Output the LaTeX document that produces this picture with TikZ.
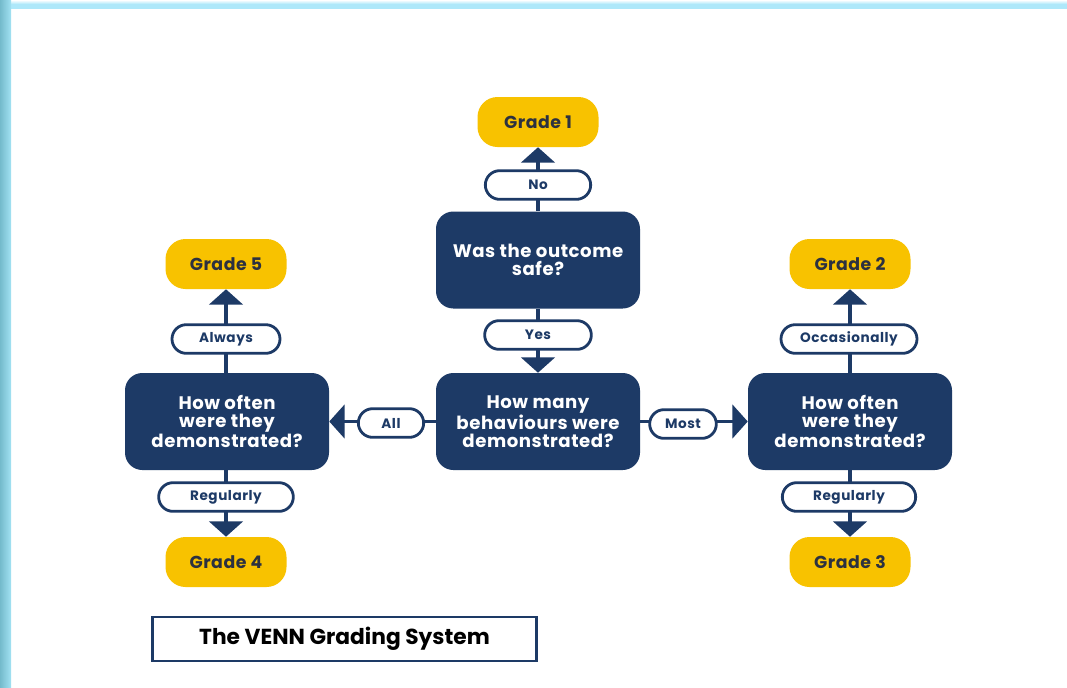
\documentclass[tikz,border=0pt]{standalone}
\usepackage{fontspec}
\setmainfont{Poppins}
\newfontfamily\qfont{Poppins}[LetterSpace=3]
\newfontfamily\gfont{Poppins}[LetterSpace=3]
\newfontfamily\pfont{Poppins}[LetterSpace=4]
\usetikzlibrary{arrows.meta,shapes.misc}
\definecolor{navy}{HTML}{1D3A66}
\definecolor{gold}{HTML}{F8C200}
\definecolor{gtext}{HTML}{2C3140}
\definecolor{frameA}{HTML}{74BACB}
\definecolor{frameB}{HTML}{A2E2F3}
\definecolor{frameT}{HTML}{AEE8FA}
\tikzset{
  qbox/.style={fill=navy, rounded corners=13pt, minimum width=153pt, minimum height=72.75pt,
    text=white, align=center, font=\qfont\bfseries\fontsize{13.6}{13.6}\selectfont, inner sep=2pt},
  grade/.style={fill=gold, rounded corners=15pt, minimum width=90.75pt, minimum height=37.5pt,
    text=gtext, font=\gfont\bfseries\fontsize{13}{14}\selectfont},
  pill/.style={draw=navy, line width=2.1pt, fill=white, rounded rectangle, minimum height=21.5pt,
    text=navy, font=\pfont\bfseries\fontsize{10.2}{11}\selectfont, inner sep=1pt},
  conn/.style={draw=navy, line width=2.7pt,
    -{Triangle[width=25pt,length=11.5pt]}},
  titlebox/.style={draw=navy, line width=2.2pt, minimum width=288pt, minimum height=33pt,
    font=\bfseries\fontsize{16.3}{18}\selectfont, text=black}
}
\begin{document}
\begin{tikzpicture}[x=0.75pt,y=-0.75pt]
\useasboundingbox (0,0) rectangle (1067,687);
\fill[white] (0,0) rectangle (1067,687);
% frame strips
\shade[top color=white, bottom color=frameT, middle color=frameT] (0,0) rectangle (1067,8);
\shade[left color=frameA, right color=frameB] (0,0) rectangle (11,687);
% main nodes
\node[grade] (g1) at (538,122) {Grade 1};
\node[qbox] (q1) at (538,260) {Was the outcome\\safe?};
\node[qbox] (q2) at (538,421.5) {How many\\behaviours were\\demonstrated?};
\node[qbox] (lq) at (227,421.5) {How often\\were they\\demonstrated?};
\node[qbox] (rq) at (850,421.5) {How often\\were they\\demonstrated?};
\node[grade] (g5) at (226,264) {Grade 5};
\node[grade] (g4) at (226,562) {Grade 4};
\node[grade] (g2) at (850,264) {Grade 2};
\node[grade] (g3) at (850,562) {Grade 3};
% connectors
\draw[conn] (q1) -- (g1);
\draw[conn] (q1) -- (q2);
\draw[conn] (q2) -- (lq);
\draw[conn] (q2) -- (rq);
\draw[conn] (lq.north -| g5) -- (g5);
\draw[conn] (lq.south -| g4) -- (g4);
\draw[conn] (rq) -- (g2);
\draw[conn] (rq) -- (g3);
% labels
\node[pill, minimum width=81pt] (lno) at (538,185) {No};
\node[pill, minimum width=82pt] (lyes) at (538,335) {Yes};
\node[pill, minimum width=51pt] (lall) at (391,423) {All};
\node[pill, minimum width=52pt] (lmost) at (683,424) {Most};
\node[pill, minimum width=83pt] (lalw) at (226,339) {Always};
\node[pill, minimum width=104pt] (locc) at (849,339) {Occasionally};
\node[pill, minimum width=103pt] (lreg1) at (226,497) {Regularly};
\node[pill, minimum width=102pt] (lreg2) at (849,497) {Regularly};
% title
\node[titlebox] (title) at (344.5,639) {The VENN Grading System};
\end{tikzpicture}
\end{document}
